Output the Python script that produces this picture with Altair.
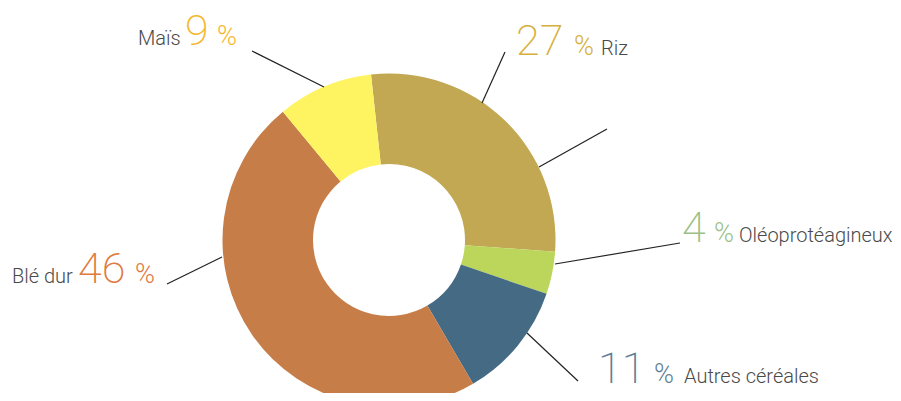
import math
import altair as alt
import pandas as pd

# ---- data ----
categories = ["Riz", "Oléoprotéagineux", "Autres céréales", "Blé dur", "Maïs"]
values = [27, 4, 11, 46, 9]

# ---- styles ----
slice_colors = ["#C2A852", "#BBD65B", "#456B84", "#C67D48", "#FEF361"]
number_colors = ["#D6B03C", "#9CBF88", "#5F7F96", "#E07A3F", "#F5B730"]

W, H = 885, 385
CX, CY = 381, 232          # donut centre (chart px)
R_OUT, R_IN = 166.5, 76
START = math.radians(-6.2)

# label layout (chart px): number x, percent x, name x, baseline y
label_pos = {
    "Maïs": (177, 209, 130, 37),
    "Riz": (508, 566, 593, 47),
    "Oléoprotéagineux": (674, 706, 731, 234),
    "Autres céréales": (590, 646, 676, 375),
    "Blé dur": (70, 127, 4, 275),
}
# leader lines (chart px)
leaders = [
    (244, 43, 316, 79),
    (497, 44, 474, 95),
    (531, 159, 599, 121),
    (547, 256, 672, 235),
    (519, 325, 570, 373),
    (159, 276, 214, 249),
]

df = pd.DataFrame({"cat": categories, "value": values, "idx": range(len(values))})

donut = alt.Chart(df).mark_arc(
    radius=R_OUT, radius2=R_IN, x=CX, y=CY
).encode(
    theta=alt.Theta("value:Q", stack=True,
                    scale=alt.Scale(range=[START, START + 2 * math.pi])),
    color=alt.Color("cat:N", scale=alt.Scale(domain=categories, range=slice_colors),
                    legend=None),
    order=alt.Order("idx:Q"),
)

lab = pd.DataFrame({
    "lcat": categories,
    "num": [str(v) for v in values],
    "pct": ["%"] * len(values),
    "name": categories,
    "xn": [label_pos[c][0] for c in categories],
    "xp": [label_pos[c][1] for c in categories],
    "xl": [label_pos[c][2] for c in categories],
    "y": [label_pos[c][3] for c in categories],
})

tcolor = alt.Color("lcat:N", scale=alt.Scale(domain=categories, range=number_colors),
                   legend=None)

num_text = alt.Chart(lab).mark_text(
    align="left", baseline="alphabetic", font="Roboto", fontSize=43, fontWeight=200
).encode(x=alt.X("xn:Q", scale=None), y=alt.Y("y:Q", scale=None), text="num:N",
         color=tcolor)

pct_text = alt.Chart(lab).mark_text(
    align="left", baseline="alphabetic", font="Roboto", fontSize=27, fontWeight=300
).encode(x=alt.X("xp:Q", scale=None), y=alt.Y("y:Q", scale=None), text="pct:N",
         color=tcolor)

name_text = alt.Chart(lab).mark_text(
    align="left", baseline="alphabetic", font="Roboto", fontSize=20, fontWeight=300,
    color="#4a4a4a"
).encode(x=alt.X("xl:Q", scale=None), y=alt.Y("y:Q", scale=None), text="name:N")

ld = pd.DataFrame(leaders, columns=["x1", "y1", "x2", "y2"])
lines = alt.Chart(ld).mark_rule(color="#222222", strokeWidth=1.2).encode(
    x=alt.X("x1:Q", scale=None), y=alt.Y("y1:Q", scale=None),
    x2="x2:Q", y2="y2:Q",
)

chart = alt.layer(donut, lines, num_text, pct_text, name_text).resolve_scale(
    color="independent"
).properties(
    width=W, height=H, padding=0, autosize=alt.AutoSizeParams(type="none")
).configure_view(stroke=None)

chart.save("out.html", embed_options={"renderer": "svg", "actions": False})
